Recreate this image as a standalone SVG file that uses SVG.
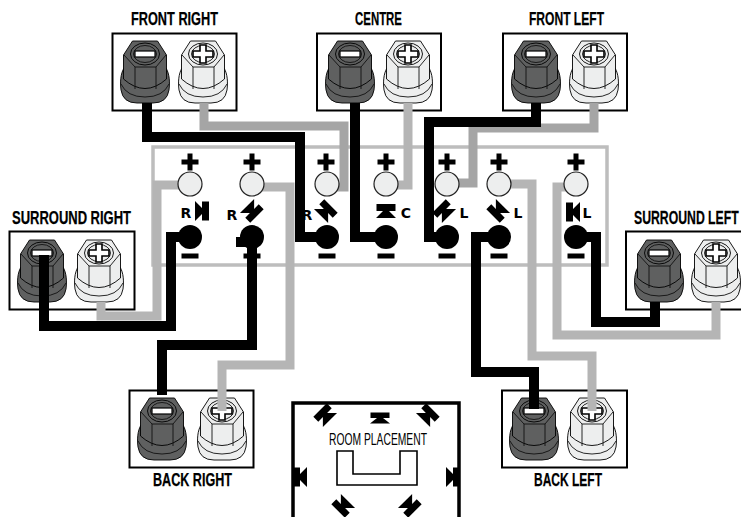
<svg xmlns="http://www.w3.org/2000/svg" width="741" height="517" viewBox="0 0 741 517">
<style>
.box{fill:#fff;stroke:#000;stroke-width:2}
.lbl{font-family:"Liberation Sans",Arial,sans-serif;font-weight:700;font-size:18px;fill:#000;stroke:#000;stroke-width:.25}
.lt{font-family:"DejaVu Sans",sans-serif;font-weight:700;font-size:14px;fill:#000;text-anchor:middle}
.wb,.wg,.wd{fill:none;stroke-linejoin:miter}
.wb{stroke:#000;stroke-width:10}
.wg{stroke:#b5b5b5;stroke-width:9}
.wd{stroke:#a5a5a5;stroke-width:9}
#neg{fill:#5f6060}
#pos{fill:#edeeee}
.b{stroke:#000;stroke-width:.9}
.l{fill:none;stroke:#111;stroke-width:.9}
.jp{fill:#edeeee;stroke:#222;stroke-width:1.2}
</style>
<defs>
<g id="body">
<path class="b" d="M-21,14C-24.500,20-25,28-24,36Q-22,49-8,49H8Q22,49 24,36C25,28 24.500,20 21,14Z"/>
<path class="b" d="M-12.500,-13H12.500L21.500,1V25Q0,44-21.500,25V1Z"/>
<path class="l" d="M-10,13H11V35M-10,13V35M-21,1L-10,13M21,1L11,13M-24,30Q-18,43 0,43Q18,43 24,30"/>
<ellipse class="b" rx="14.500" ry="11"/>
<ellipse class="l" rx="11.500" ry="8.500"/>
</g>
<g id="neg"><use href="#body"/><rect x="-10" y="-3" width="20" height="6" fill="#fff" stroke="#000" stroke-width="1.2"/></g>
<g id="pos"><use href="#body"/><path d="M-3,-9H3V-3H10V3H3V9H-3V3H-10V-3H-3Z" fill="#fff" stroke="#000" stroke-width="1.6"/></g>
<path id="spk" d="M0,-9.500H7V9.500H0V3L-7,10V-10L0,-3Z"/>
<path id="plus" d="M-2.500,-8.500H2.500V-2.500H8.500V2.500H2.500V8.500H-2.500V2.500H-8.500V-2.500H-2.500Z"/>
<rect id="minus" x="-8.500" y="-2.500" width="17" height="5"/>
</defs>

<g id="receiver-panel"><rect x="153" y="147" width="454" height="118" fill="none" stroke="#bdbdbd" stroke-width="3.500"/></g>

<g id="front-right"><rect class="box" x="112.500" y="33.500" width="124" height="77"/><use href="#neg" x="145" y="54"/><use href="#pos" x="203" y="54"/><text class="lbl" x="131" y="25" textLength="87" lengthAdjust="spacingAndGlyphs">FRONT RIGHT</text></g>
<g id="centre"><rect class="box" x="317" y="33.500" width="124" height="77"/><use href="#neg" x="350" y="54"/><use href="#pos" x="408" y="54"/><text class="lbl" x="355" y="25" textLength="47" lengthAdjust="spacingAndGlyphs">CENTRE</text></g>
<g id="front-left"><rect class="box" x="503" y="33.500" width="124" height="77"/><use href="#neg" x="536" y="54"/><use href="#pos" x="594" y="54"/><text class="lbl" x="529" y="25" textLength="75" lengthAdjust="spacingAndGlyphs">FRONT LEFT</text></g>
<g id="surround-right"><rect class="box" x="9.500" y="231.500" width="125" height="78"/><use href="#neg" x="42" y="253"/><use href="#pos" x="99" y="253"/><text class="lbl" x="12" y="224" textLength="119" lengthAdjust="spacingAndGlyphs">SURROUND RIGHT</text></g>
<g id="surround-left"><rect class="box" x="626" y="231.500" width="125" height="78"/><use href="#neg" x="659" y="253"/><use href="#pos" x="716" y="253"/><text class="lbl" transform="translate(634,224) scale(.68,1)" textLength="154" lengthAdjust="spacingAndGlyphs">SURROUND LEFT</text></g>
<g id="back-right"><rect class="box" x="129.500" y="390.500" width="124" height="77"/><use href="#neg" x="162" y="411"/><use href="#pos" x="222" y="411"/><text class="lbl" x="153" y="486" textLength="79" lengthAdjust="spacingAndGlyphs">BACK RIGHT</text></g>
<g id="back-left"><rect class="box" x="502" y="390.500" width="125" height="77"/><use href="#neg" x="534" y="411"/><use href="#pos" x="592" y="411"/><text class="lbl" x="534" y="486" textLength="68" lengthAdjust="spacingAndGlyphs">BACK LEFT</text></g>

<g id="connectors">
<path class="wd" d="M204,103V126H344V187H328"/>
<path class="wg" d="M408,103V185H386"/>
<path class="wd" d="M594,103V128H473V183H447"/>
<path class="wg" d="M101,302V316H157V185H190"/>
<path class="wg" d="M222,411V365H290V187H261"/>
<path class="wg" d="M499,184H532V356H592V411"/>
<path class="wg" d="M576,187H557V335H716V302"/>
<path class="wb" d="M147,103V137H300V237H327"/>
<path class="wb" d="M355,103V237H386"/>
<path class="wb" d="M536,103V122H429V237H447"/>
<path class="wb" d="M44,255V326H171V237H190"/>
<path class="wb" d="M162,395V345H252V237"/>
<path class="wb" d="M534,409V372H476V237H499"/>
<path class="wb" d="M576,237H596V322H655V302"/>
<rect x="236" y="237" width="14" height="10"/>
</g>

<g id="receiver-jacks">
<g id="jack-surround-right"><use href="#plus" x="190" y="162"/><circle class="jp" cx="190" cy="184" r="12"/><circle cx="190" cy="237" r="12"/><use href="#minus" x="190" y="256"/><use href="#spk" transform="translate(202,211)"/><text class="lt" x="186" y="218">R</text></g>
<g id="jack-back-right"><use href="#plus" x="252" y="162"/><circle class="jp" cx="252" cy="184" r="12"/><circle cx="252" cy="237" r="12"/><use href="#minus" x="252" y="256"/><use href="#spk" transform="translate(252,211) rotate(45)"/><text class="lt" x="232" y="220">R</text></g>
<g id="jack-front-right"><use href="#plus" x="326" y="162"/><circle class="jp" cx="327" cy="184" r="12"/><circle cx="327" cy="237" r="12"/><use href="#minus" x="327" y="256"/><use href="#spk" transform="translate(326,211) rotate(-45)"/><text class="lt" x="307" y="220">R</text></g>
<g id="jack-centre"><use href="#plus" x="386" y="162"/><circle class="jp" cx="386" cy="184" r="12"/><circle cx="386" cy="237" r="12"/><use href="#minus" x="386" y="256"/><use href="#spk" transform="translate(386,211) rotate(-90)"/><text class="lt" x="406" y="218">C</text></g>
<g id="jack-front-left"><use href="#plus" x="447" y="162"/><circle class="jp" cx="447" cy="184" r="12"/><circle cx="447" cy="237" r="12"/><use href="#minus" x="447" y="256"/><use href="#spk" transform="translate(444,211) rotate(-135)"/><text class="lt" x="464" y="218">L</text></g>
<g id="jack-back-left"><use href="#plus" x="499" y="162"/><circle class="jp" cx="499" cy="184" r="12"/><circle cx="499" cy="237" r="12"/><use href="#minus" x="499" y="256"/><use href="#spk" transform="translate(498,211) rotate(135)"/><text class="lt" x="518" y="218">L</text></g>
<g id="jack-surround-left"><use href="#plus" x="576" y="162"/><circle class="jp" cx="576" cy="184" r="12"/><circle cx="576" cy="237" r="12"/><use href="#minus" x="576" y="256"/><use href="#spk" transform="translate(573,212) rotate(180)"/><text class="lt" x="587" y="218">L</text></g>
</g>

<g id="room-placement">
<path d="M293,517V403H459V517" fill="none" stroke="#000" stroke-width="3.500"/>
<path d="M337,451H353V474H400V451H417V485H337Z" fill="#fff" stroke="#000" stroke-width="1.600"/>
<text x="329" y="445" textLength="98" lengthAdjust="spacingAndGlyphs" font-family="Liberation Sans, Arial, sans-serif" font-size="17">ROOM PLACEMENT</text>
<use href="#spk" transform="translate(325,415) rotate(-135)"/>
<use href="#spk" transform="translate(380,418) rotate(-90) scale(.8,1)"/>
<use href="#spk" transform="translate(428,415) rotate(-45)"/>
<use href="#spk" transform="translate(300,477) rotate(180)"/>
<use href="#spk" transform="translate(453,477)"/>
<use href="#spk" transform="translate(343,506) rotate(135)"/>
<use href="#spk" transform="translate(410,506) rotate(45)"/>
</g>
</svg>
